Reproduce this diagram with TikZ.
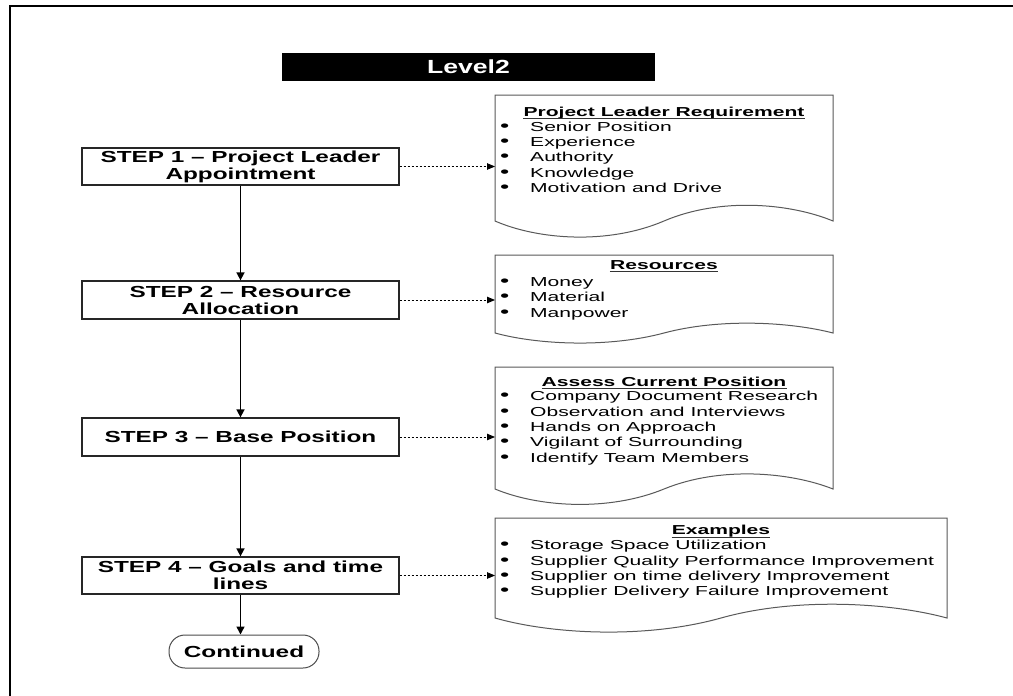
\documentclass[tikz,border=0pt]{standalone}
\usepackage{fontspec}
\setmainfont{Liberation Sans}
\newfontfamily\bodyfont[FakeStretch=1.62,Ligatures=TeX]{Liberation Sans}
\newfontfamily\stepfont[FakeStretch=1.52,Ligatures=TeX]{Liberation Sans}
\newfontfamily\titlefont[FakeStretch=1.4,Ligatures=TeX]{Liberation Sans}
\usetikzlibrary{arrows.meta,calc}

\tikzset{
  stepbox/.style={draw=black!85, line width=1.3pt, minimum width=317pt, inner sep=0pt,
    align=center, font=\stepfont\bfseries\fontsize{16}{17}\selectfont},
  docarea/.style={inner sep=0pt, outer sep=0pt, anchor=north west},
  docline/.style={draw=black!65, line width=1pt},
  dochead/.style={anchor=base, inner sep=0pt, font=\bodyfont\bfseries\fontsize{13}{15.4}\selectfont},
  headrule/.style={line width=0.9pt, black!80},
  doclist/.style={anchor=base west, inner sep=0pt, font=\bodyfont\fontsize{13}{15.4}\selectfont},
  flow/.style={line width=1.6pt, -{Triangle[length=8pt,width=8pt]}},
  link/.style={line width=0.9pt, dash pattern=on 2.5pt off 1.5pt, -{Triangle[length=8pt,width=6.5pt]}},
  titlebar/.style={fill=black, minimum width=373pt, minimum height=28pt, inner sep=0pt,
    text=white, font=\titlefont\bfseries\fontsize{19}{21}\selectfont},
  endbox/.style={draw=black!70, line width=1pt, rounded corners=16pt, minimum width=150pt,
    minimum height=33pt, inner sep=0pt, font=\stepfont\bfseries\fontsize{16}{17}\selectfont},
}

% document outline with a wavy bottom edge, drawn around a named node
\newcommand\docwave[2]{%
  \draw[docline] (#1.south west) -- (#1.north west) -- (#1.north east) -- (#1.south east)
    .. controls ($(#1.south east)!0.127!(#1.south west)+(0,{-0.74*#2})$)
       and ($(#1.south east)!0.334!(#1.south west)+(0,{-#2})$)
    .. ($(#1.south east)!0.5!(#1.south west)$)
    .. controls ($(#1.south east)!0.666!(#1.south west)+(0,{#2})$)
       and ($(#1.south east)!0.873!(#1.south west)+(0,{0.78*#2})$)
    .. (#1.south west) -- cycle;}
\newcommand\itemdot{\makebox[31pt][l]{\kern1pt\scalebox{1.25}{\textbullet}}}

\begin{document}
\begin{tikzpicture}[x=1pt, y=-1pt]
\useasboundingbox (0,0) rectangle (1013,696);
\fill[white] (0,0) rectangle (1013,696);

% page frame
\draw[line width=2.4pt] (10,700) -- (10,6) -- (1020,6);

% title
\node[titlebar] (title) at (468.5,67) {Level2};

% process steps
\node[stepbox, minimum height=37pt] (s1) at (240.5,166.5) {STEP 1 -- Project Leader\\Appointment};
\node[stepbox, minimum height=38pt] (s2) at (240.5,300) {STEP 2 -- Resource\\Allocation};
\node[stepbox, minimum height=38pt] (s3) at (240.5,437) {STEP 3 -- Base Position};
\node[stepbox, minimum height=37pt] (s4) at (240.5,575.5) {STEP 4 -- Goals and time\\lines};
\node[endbox] (cont) at (244,651.5) {Continued};

% document frames
\node[docarea, minimum width=338pt, minimum height=126pt] (d1) at (495,95) {};
\node[docarea, minimum width=338pt, minimum height=78pt] (d2) at (495,255) {};
\node[docarea, minimum width=338pt, minimum height=122pt] (d3) at (495,367) {};
\node[docarea, minimum width=452pt, minimum height=100pt] (d4) at (495,518) {};
\docwave{d1}{24}
\docwave{d2}{15}
\docwave{d3}{23}
\docwave{d4}{21}

% document texts
\node[dochead] (h1) at (664,116.5) {Project Leader Requirement};
\node[doclist] (l1) at (499,131) {\begin{tabular}[t]{@{}l@{}}
  \itemdot Senior Position\\ \itemdot Experience\\ \itemdot Authority\\
  \itemdot Knowledge\\ \itemdot Motivation and Drive\end{tabular}};

\node[dochead] (h2) at (664,269.5) {Resources};
\node[doclist] (l2) at (499,286.5) {\begin{tabular}[t]{@{}l@{}}
  \itemdot Money\\ \itemdot Material\\ \itemdot Manpower\end{tabular}};

\node[dochead] (h3) at (664,386.5) {Assess Current Position};
\node[doclist] (l3) at (499,400.7) {\begin{tabular}[t]{@{}l@{}}
  \itemdot Company Document Research\\ \itemdot Observation and Interviews\\
  \itemdot Hands on Approach\\ \itemdot Vigilant of Surrounding\\
  \itemdot Identify Team Members\end{tabular}};

\node[dochead] (h4) at (721,534.7) {Examples};
\node[doclist] (l4) at (499,549.7) {\begin{tabular}[t]{@{}l@{}}
  \itemdot Storage Space Utilization\\ \itemdot Supplier Quality Performance Improvement\\
  \itemdot Supplier on time delivery Improvement\\
  \itemdot Supplier Delivery Failure Improvement\end{tabular}};

% heading underlines
\foreach \h in {h1,h2,h3,h4}
  \draw[headrule] ([yshift=-2.4pt]\h.base west) -- ([yshift=-2.4pt]\h.base east);

% flow connectors
\draw[flow] (s1.south) -- (s2.north);
\draw[flow] (s2.south) -- (s3.north);
\draw[flow] (s3.south) -- (s4.north);
\draw[flow] (s4.south) -- (s4.south |- cont.north);

% links to the documents
\draw[link] (s1.east) -- (s1.east -| d1.west);
\draw[link] (s2.east) -- (s2.east -| d2.west);
\draw[link] (s3.east) -- (s3.east -| d3.west);
\draw[link] (s4.east) -- (s4.east -| d4.west);
\end{tikzpicture}
\end{document}
